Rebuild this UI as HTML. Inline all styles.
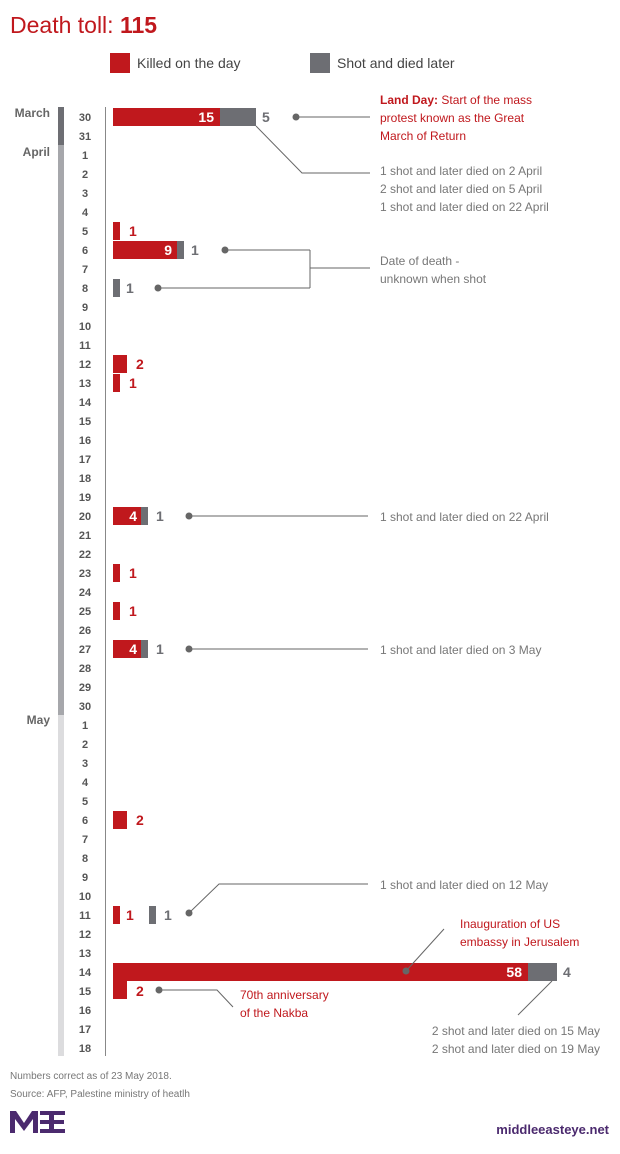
<!DOCTYPE html>
<html><head><meta charset="utf-8"><style>
body{margin:0;background:#fff;}
svg{display:block;font-family:"Liberation Sans",sans-serif;}
</style></head><body>
<svg width="620" height="1154" viewBox="0 0 620 1154" xmlns="http://www.w3.org/2000/svg">
<text x="10" y="33" font-size="23" fill="#c0181d">Death toll: <tspan font-weight="bold">115</tspan></text>
<rect x="110" y="53" width="20" height="20" fill="#c0181d"/>
<text x="137" y="68" font-size="14" fill="#444">Killed on the day</text>
<rect x="310" y="53" width="20" height="20" fill="#6d6e73"/>
<text x="337" y="68" font-size="14" fill="#444">Shot and died later</text>

<rect x="58" y="107" width="6" height="38" fill="#6d6e73"/>
<rect x="58" y="145" width="6" height="570" fill="#a6a7ab"/>
<rect x="58" y="715" width="6" height="341" fill="#dcdcde"/>
<line x1="105.5" y1="107" x2="105.5" y2="1056" stroke="#888" stroke-width="1"/>
<g font-size="12" font-weight="bold" fill="#666" text-anchor="end">
<text x="50" y="117">March</text><text x="50" y="156">April</text><text x="50" y="724">May</text>
</g>
<g font-size="11" font-weight="bold" fill="#555" text-anchor="middle" id="days"></g>

<g fill="#c0181d">
<rect x="113" y="108" width="107" height="18"/>
<rect x="113" y="222" width="7" height="18"/>
<rect x="113" y="241" width="64" height="18"/>
<rect x="113" y="355" width="14" height="18"/>
<rect x="113" y="374" width="7" height="18"/>
<rect x="113" y="507" width="28" height="18"/>
<rect x="113" y="564" width="7" height="18"/>
<rect x="113" y="602" width="7" height="18"/>
<rect x="113" y="640" width="28" height="18"/>
<rect x="113" y="811" width="14" height="18"/>
<rect x="113" y="906" width="7" height="18"/>
<rect x="113" y="963" width="415" height="18"/>
<rect x="113" y="981" width="14" height="18"/>
</g>
<g fill="#6d6e73">
<rect x="220" y="108" width="36" height="18"/>
<rect x="177" y="241" width="7" height="18"/>
<rect x="113" y="279" width="7" height="18"/>
<rect x="141" y="507" width="7" height="18"/>
<rect x="141" y="640" width="7" height="18"/>
<rect x="149" y="906" width="7" height="18"/>
<rect x="528" y="963" width="29" height="18"/>
</g>
<g font-size="14" font-weight="bold" fill="#fff" text-anchor="end">
<text x="214" y="122">15</text><text x="172" y="255">9</text><text x="137" y="521">4</text><text x="137" y="654">4</text><text x="522" y="977">58</text>
</g>
<g font-size="14" font-weight="bold" fill="#c0181d">
<text x="129" y="236">1</text><text x="136" y="369">2</text><text x="129" y="388">1</text><text x="129" y="578">1</text><text x="129" y="616">1</text><text x="136" y="825">2</text><text x="126" y="920">1</text><text x="136" y="996">2</text>
</g>
<g font-size="14" font-weight="bold" fill="#6d6e73">
<text x="262" y="122">5</text><text x="191" y="255">1</text><text x="126" y="293">1</text><text x="156" y="521">1</text><text x="156" y="654">1</text><text x="164" y="920">1</text><text x="563" y="977">4</text>
</g>

<g stroke="#666" stroke-width="1" fill="none">
<line x1="296" y1="117" x2="370" y2="117"/>
<polyline points="256,126 302,173 370,173"/>
<line x1="225" y1="250" x2="310" y2="250"/>
<line x1="158" y1="288" x2="310" y2="288"/>
<line x1="310" y1="250" x2="310" y2="288"/>
<line x1="310" y1="268" x2="370" y2="268"/>
<line x1="189" y1="516" x2="368" y2="516"/>
<line x1="189" y1="649" x2="368" y2="649"/>
<polyline points="189,913 219,884 368,884"/>
<line x1="406" y1="971" x2="444" y2="929"/>
<polyline points="159,990 217,990 233,1007"/>
<line x1="552" y1="981" x2="518" y2="1015"/>
</g>
<g fill="#666">
<circle cx="296" cy="117" r="3.5"/><circle cx="225" cy="250" r="3.5"/><circle cx="158" cy="288" r="3.5"/>
<circle cx="189" cy="516" r="3.5"/><circle cx="189" cy="649" r="3.5"/><circle cx="189" cy="913" r="3.5"/>
<circle cx="406" cy="971" r="3.5"/><circle cx="159" cy="990" r="3.5"/>
</g>
<g font-size="12" fill="#c0181d">
<text x="380" y="104"><tspan font-weight="bold">Land Day:</tspan> Start of the mass</text>
<text x="380" y="122">protest known as the Great</text>
<text x="380" y="140">March of Return</text>
<text x="460" y="928">Inauguration of US</text>
<text x="460" y="946">embassy in Jerusalem</text>
<text x="240" y="999">70th anniversary</text>
<text x="240" y="1017">of the Nakba</text>
</g>
<g font-size="12" fill="#777">
<text x="380" y="175">1 shot and later died on 2 April</text>
<text x="380" y="193">2 shot and later died on 5 April</text>
<text x="380" y="211">1 shot and later died on 22 April</text>
<text x="380" y="265">Date of death -</text>
<text x="380" y="283">unknown when shot</text>
<text x="380" y="521">1 shot and later died on 22 April</text>
<text x="380" y="654">1 shot and later died on 3 May</text>
<text x="380" y="889">1 shot and later died on 12 May</text>
<text x="600" y="1035" text-anchor="end">2 shot and later died on 15 May</text>
<text x="600" y="1053" text-anchor="end">2 shot and later died on 19 May</text>
</g>
<g font-size="10" fill="#777">
<text x="10" y="1079">Numbers correct as of 23 May 2018.</text>
<text x="10" y="1097">Source: AFP, Palestine ministry of heatlh</text>
</g>
<g fill="#4b2a6e">
<path d="M10 1133 V1111 h6 l8 12 l8 -12 h6 v22 h-5 v-14 l-9 12 l-9 -12 v14 z"/>
<rect x="40" y="1111" width="10" height="4"/><rect x="40" y="1120" width="10" height="4"/><rect x="40" y="1129" width="10" height="4"/>
<rect x="49" y="1111" width="5" height="22"/>
<rect x="54" y="1111" width="11" height="4"/><rect x="54" y="1120" width="10" height="4"/><rect x="54" y="1129" width="11" height="4"/>
</g>
<text x="609" y="1134" font-size="13" font-weight="bold" fill="#4b2a6e" text-anchor="end">middleeasteye.net</text>

<g font-size="11" font-weight="bold" fill="#555" text-anchor="middle">
<text x="85" y="121">30</text><text x="85" y="140">31</text>
<text x="85" y="159">1</text><text x="85" y="178">2</text><text x="85" y="197">3</text><text x="85" y="216">4</text><text x="85" y="235">5</text><text x="85" y="254">6</text><text x="85" y="273">7</text><text x="85" y="292">8</text><text x="85" y="311">9</text><text x="85" y="330">10</text>
<text x="85" y="349">11</text><text x="85" y="368">12</text><text x="85" y="387">13</text><text x="85" y="406">14</text><text x="85" y="425">15</text><text x="85" y="444">16</text><text x="85" y="463">17</text><text x="85" y="482">18</text><text x="85" y="501">19</text><text x="85" y="520">20</text>
<text x="85" y="539">21</text><text x="85" y="558">22</text><text x="85" y="577">23</text><text x="85" y="596">24</text><text x="85" y="615">25</text><text x="85" y="634">26</text><text x="85" y="653">27</text><text x="85" y="672">28</text><text x="85" y="691">29</text><text x="85" y="710">30</text>
<text x="85" y="729">1</text><text x="85" y="748">2</text><text x="85" y="767">3</text><text x="85" y="786">4</text><text x="85" y="805">5</text><text x="85" y="824">6</text><text x="85" y="843">7</text><text x="85" y="862">8</text><text x="85" y="881">9</text><text x="85" y="900">10</text>
<text x="85" y="919">11</text><text x="85" y="938">12</text><text x="85" y="957">13</text><text x="85" y="976">14</text><text x="85" y="995">15</text><text x="85" y="1014">16</text><text x="85" y="1033">17</text><text x="85" y="1052">18</text>
</g>
</svg>
</body></html>
